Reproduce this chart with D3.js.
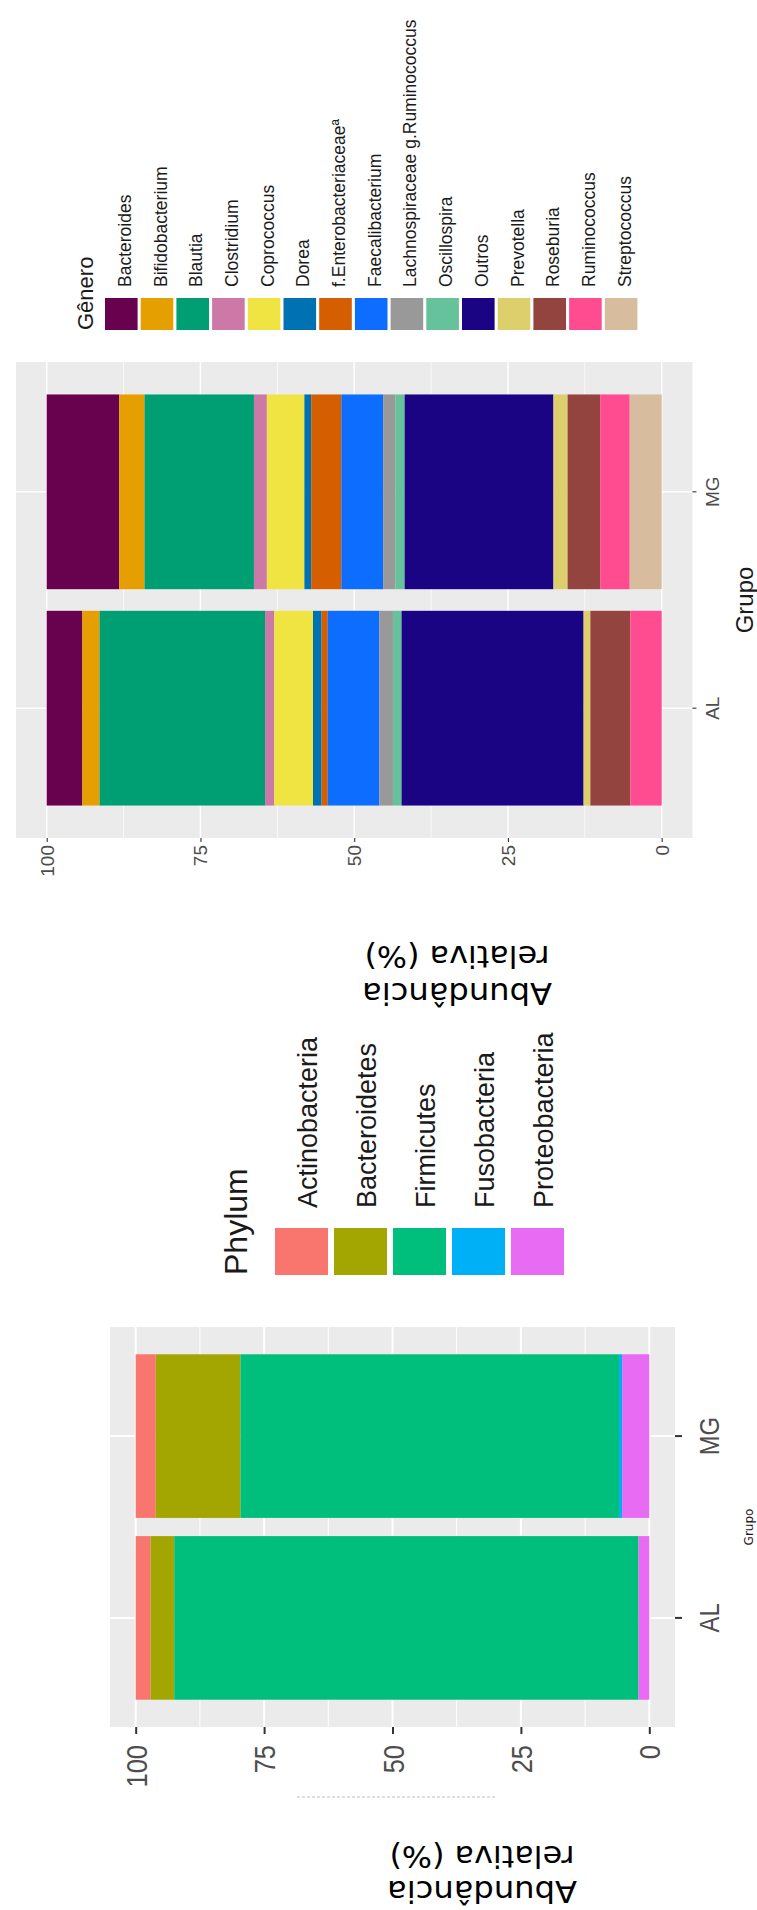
<!DOCTYPE html>
<html>
<head>
<meta charset="utf-8">
<script src="https://cdn.jsdelivr.net/npm/d3@7"></script>
<style>
  body { margin: 0; background: #fff; }
  svg { display: block; }
</style>
</head>
<body>
<svg id="chart" width="757" height="1910"></svg>
<script>
// Groups (discrete axis) and value ticks
const grupos = ['MG', 'AL'];
const ticksAbund = [100, 75, 50, 25, 0];
const ticksMenores = [87.5, 62.5, 37.5, 12.5];

// Genus panel (top)
const generos = ['Bacteroides', 'Bifidobacterium', 'Blautia', 'Clostridium', 'Coprococcus', 'Dorea',
  'f.Enterobacteriaceae\u00aa', 'Faecalibacterium', 'Lachnospiraceae g.Ruminococcus', 'Oscillospira',
  'Outros', 'Prevotella', 'Roseburia', 'Ruminococcus', 'Streptococcus'];
const generoCores = ['#68024f', '#e69f00', '#009e73', '#cc79a7', '#f0e442', '#0072b2', '#d55e00',
  '#0c6dff', '#999999', '#66c29b', '#1b0484', '#dccf6c', '#94443f', '#ff4b8f', '#d8bc9e'];
const generoMG = [11.8, 4.1, 17.8, 2.1, 6.1, 1.1, 4.9, 6.8, 2.0, 1.5, 24.2, 2.3, 5.3, 4.8, 5.2];
const generoAL = [5.8, 2.8, 26.9, 1.5, 6.3, 1.4, 1.0, 8.4, 2.2, 1.4, 29.6, 1.1, 6.5, 5.1, 0.0];

// Phylum panel (bottom)
const filos = ['Actinobacteria', 'Bacteroidetes', 'Firmicutes', 'Fusobacteria', 'Proteobacteria'];
const filoCores = ['#f8766d', '#a3a500', '#00bf7d', '#00b0f6', '#e76bf3'];
const filoMG = [3.9, 16.5, 73.7, 0.6, 5.3];
const filoAL = [2.9, 4.6, 90.4, 0.0, 2.1];

const SANS = 'Liberation Sans, Arial, sans-serif';
const DEJAVU = 'DejaVu Sans, sans-serif';

const svg = d3.select('#chart');

// squeeze text along its reading direction (the source uses a condensed face)
function squeeze(sel, k) {
  if (k === 1) return;
  sel.each(function () {
    const n = this.getComputedTextLength();
    d3.select(this).attr('textLength', n * k).attr('lengthAdjust', 'spacingAndGlyphs');
  });
}

function drawPanel(o) {
  const x = d3.scaleLinear().domain([100, 0]).range([o.x100, o.x0]);
  const y = d3.scaleBand().domain(grupos).range([o.yTop, o.yBottom])
    .paddingInner(0.1).paddingOuter(0.15);
  const px0 = x(105), px1 = x(-5);
  const g = svg.append('g');

  g.append('rect')
    .attr('x', px0).attr('y', o.yTop)
    .attr('width', px1 - px0).attr('height', o.yBottom - o.yTop)
    .attr('fill', '#ebebeb');

  // grid
  g.append('g').selectAll('line').data(ticksMenores).join('line')
    .attr('x1', d => x(d)).attr('x2', d => x(d))
    .attr('y1', o.yTop).attr('y2', o.yBottom)
    .attr('stroke', '#fff').attr('stroke-width', o.gridW * 0.5);
  g.append('g').selectAll('line').data(ticksAbund).join('line')
    .attr('x1', d => x(d)).attr('x2', d => x(d))
    .attr('y1', o.yTop).attr('y2', o.yBottom)
    .attr('stroke', '#fff').attr('stroke-width', o.gridW);
  g.append('g').selectAll('line').data(grupos).join('line')
    .attr('x1', px0).attr('x2', px1)
    .attr('y1', d => y(d) + y.bandwidth() / 2).attr('y2', d => y(d) + y.bandwidth() / 2)
    .attr('stroke', '#fff').attr('stroke-width', o.gridW);

  // stacked bars, first level sits at the 100 end
  const rows = grupos.map(gr => {
    const r = { grupo: gr };
    o.keys.forEach((k, j) => { r[k] = o.values[gr][j]; });
    return r;
  });
  const series = d3.stack().keys(o.keys).order(d3.stackOrderReverse)(rows);
  g.append('g').selectAll('g').data(series).join('g')
    .attr('fill', d => o.colors[o.keys.indexOf(d.key)])
    .selectAll('rect').data(d => d).join('rect')
    .attr('x', d => x(d[1]))
    .attr('width', d => x(d[0]) - x(d[1]))
    .attr('y', d => y(d.data.grupo))
    .attr('height', y.bandwidth());

  // value axis (below the panel, labels turned -90deg)
  const ax = g.append('g').attr('transform', `translate(0,${o.yBottom})`)
    .call(d3.axisBottom(x).tickValues(ticksAbund).tickSize(o.tickLen).tickFormat(d3.format('d')));
  ax.select('.domain').remove();
  ax.selectAll('.tick line').attr('stroke', '#333').attr('stroke-width', o.tickW);
  const vt = ax.selectAll('.tick text')
    .attr('x', null).attr('y', null).attr('dy', null)
    .attr('transform', `translate(0,${o.tickLen + o.valPad}) rotate(-90)`)
    .attr('text-anchor', 'end').attr('dominant-baseline', 'central')
    .attr('font-family', SANS).attr('font-size', o.valFs).attr('fill', '#4d4d4d');
  squeeze(vt, o.squeeze);

  // group axis (right side)
  const ay = g.append('g').attr('transform', `translate(${px1},0)`)
    .call(d3.axisRight(y).tickSize(o.tickLen));
  ay.select('.domain').remove();
  ay.selectAll('.tick line').attr('stroke', '#333').attr('stroke-width', o.tickW);
  const gt = ay.selectAll('.tick text')
    .attr('x', null).attr('y', null).attr('dy', null)
    .attr('transform', `translate(${o.grpPad},0) rotate(-90)`)
    .attr('text-anchor', 'middle').attr('dominant-baseline', 'central')
    .attr('font-family', SANS).attr('font-size', o.grpFs).attr('fill', '#4d4d4d');
  squeeze(gt, o.squeeze);

  // "Grupo"
  g.append('text')
    .attr('transform', `translate(${o.grupoX},${(o.yTop + o.yBottom) / 2}) rotate(-90)`)
    .attr('text-anchor', 'middle').attr('dominant-baseline', 'central')
    .attr('font-family', o.grupoFont).attr('font-size', o.grupoFs).attr('fill', '#1a1a1a')
    .text('Grupo');
}

function drawLegend(o) {
  const g = svg.append('g');
  const cx = (d, i) => o.x0 + i * o.step + o.keyW / 2;
  g.selectAll('rect').data(o.keys).join('rect')
    .attr('x', (d, i) => o.x0 + i * o.step)
    .attr('y', o.keyTop).attr('width', o.keyW).attr('height', o.keyH)
    .attr('fill', (d, i) => o.colors[i]);
  g.selectAll('text.lab').data(o.keys).join('text')
    .attr('class', 'lab')
    .attr('transform', (d, i) => `translate(${cx(d, i) + o.labShift},${o.labY}) rotate(-90)`)
    .attr('text-anchor', 'start').attr('dominant-baseline', 'central')
    .attr('font-family', SANS).attr('font-size', o.labFs).attr('fill', '#1a1a1a')
    .text(d => d);
  g.append('text')
    .attr('transform', `translate(${o.titleX},${o.keyTop + o.keyH}) rotate(-90)`)
    .attr('text-anchor', 'start').attr('dominant-baseline', 'central')
    .attr('font-family', SANS).attr('font-size', o.titleFs).attr('fill', '#1a1a1a')
    .text(o.title);
}

function drawTitle(cx, yRel, yAbu) {
  const g = svg.append('g').attr('font-family', DEJAVU).attr('font-size', 31).attr('fill', '#000');
  [['Abund\u00e2ncia', yAbu, 190], ['relativa (%)', yRel, 185]].forEach(([t, yy, len]) => {
    g.append('text')
      .attr('transform', `translate(${cx},${yy}) rotate(180)`)
      .attr('text-anchor', 'middle').attr('dominant-baseline', 'central')
      .attr('textLength', len).attr('lengthAdjust', 'spacingAndGlyphs')
      .text(t);
  });
}

// ---- top: genus ----
drawLegend({
  keys: generos, colors: generoCores,
  x0: 105, step: 35.7, keyW: 32.6, keyTop: 298, keyH: 32,
  labY: 287, labShift: 3.5, labFs: 17.5,
  title: 'G\u00eanero', titleFs: 22, titleX: 85
});
drawPanel({
  keys: generos, colors: generoCores,
  values: { MG: generoMG, AL: generoAL },
  x100: 46.7, x0: 661.7, yTop: 362, yBottom: 838,
  gridW: 1.5, tickLen: 4, tickW: 1.1,
  valFs: 19, valPad: 3, grpFs: 19, grpPad: 20, squeeze: 1,
  grupoX: 744, grupoFs: 24, grupoFont: SANS
});
drawTitle(457, 957, 994);

// ---- bottom: phylum ----
drawLegend({
  keys: filos, colors: filoCores,
  x0: 275, step: 59, keyW: 53, keyTop: 1228, keyH: 47,
  labY: 1208, labShift: 6.5, labFs: 27,
  title: 'Phylum', titleFs: 32, titleX: 236
});
drawPanel({
  keys: filos, colors: filoCores,
  values: { MG: filoMG, AL: filoAL },
  x100: 135.7, x0: 649.3, yTop: 1327, yBottom: 1727,
  gridW: 2, tickLen: 7, tickW: 2,
  valFs: 30, valPad: 11, grpFs: 28, grpPad: 34.5, squeeze: 0.85,
  grupoX: 749, grupoFs: 12, grupoFont: DEJAVU
});
// faint remnant line under the phylum value axis
svg.append('line')
  .attr('x1', 297).attr('x2', 495).attr('y1', 1797).attr('y2', 1797)
  .attr('stroke', '#dedede').attr('stroke-width', 2).attr('stroke-dasharray', '3,2');
drawTitle(482, 1857, 1892);
</script>
</body>
</html>
